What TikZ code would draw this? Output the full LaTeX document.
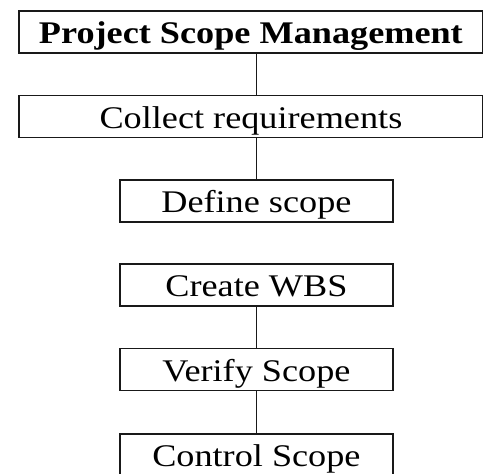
\documentclass[tikz,border=0pt]{standalone}
\usepackage{fontspec}
\setmainfont[FakeStretch=1.15]{Liberation Serif}
\begin{document}
\begin{tikzpicture}[x=1pt,y=1pt,
  stepbox/.style={draw=black!90, line width=1.8pt, fill=white, inner xsep=0pt, inner ysep=0pt,
    text height=33pt, text depth=9pt, anchor=north west,
    font=\fontsize{31.5}{36}\selectfont},
  link/.style={draw=black!90, line width=1.6pt}]
\clip (0,0) rectangle (483,-474);
\fill[white] (0,0) rectangle (483,-474);
\node[stepbox, minimum width=464pt, font=\fontsize{31.5}{36}\selectfont\bfseries] (b1) at (18,-10) {Project Scope Management};
\node[stepbox, minimum width=464pt] (b2) at (18,-94.5) {Collect requirements};
\node[stepbox, minimum width=273pt] (b3) at (119,-179) {Define scope};
\node[stepbox, minimum width=273pt] (b4) at (119,-263) {Create WBS};
\node[stepbox, minimum width=273pt] (b5) at (119,-347.5) {Verify Scope};
\node[stepbox, minimum width=273pt] (b6) at (119,-433) {Control Scope};
\draw[link] (b1.south -| b3.north) -- (b2.north -| b3.north);
\draw[link] (b2.south -| b3.north) -- (b3.north);
\draw[link] (b4.south) -- (b5.north);
\draw[link] (b5.south) -- (b6.north);
\end{tikzpicture}
\end{document}
